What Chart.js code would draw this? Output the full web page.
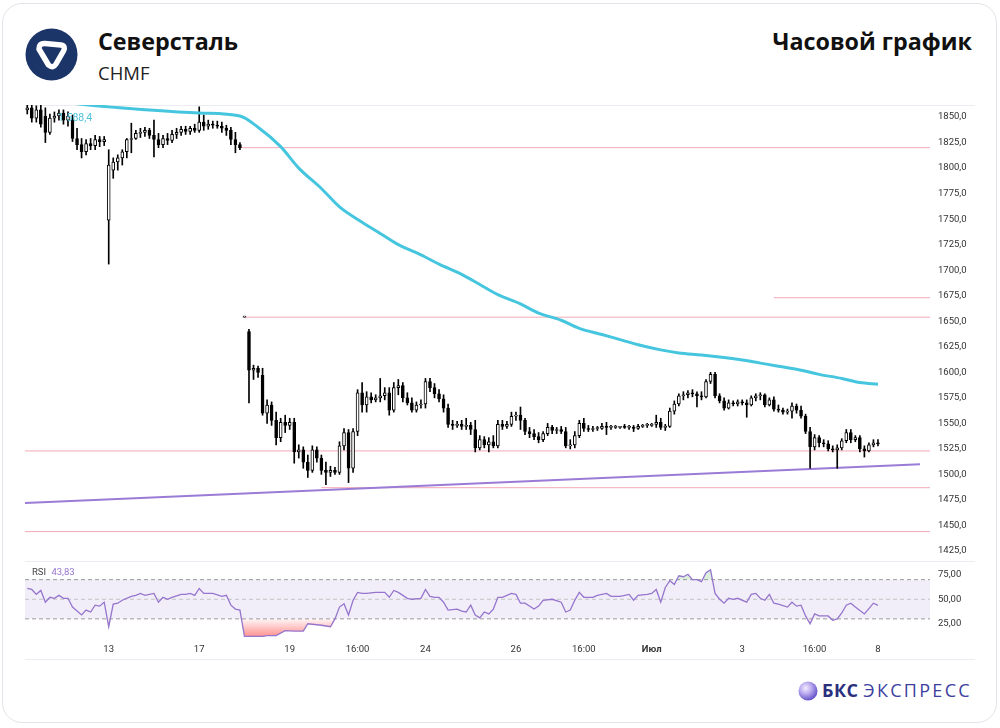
<!DOCTYPE html>
<html lang="ru">
<head>
<meta charset="utf-8">
<script src="https://cdn.jsdelivr.net/npm/chart.js@4.4.1/dist/chart.umd.min.js"></script>
<style>
html, body { margin: 0; padding: 0; background: #fff; }
body { width: 1000px; height: 728px; position: relative; overflow: hidden; font-family: 'Open Sans', sans-serif; }
.card { position: absolute; left: 2px; top: 3px; width: 995px; height: 720px; border: 1px solid #e3e4ea; border-radius: 20px; box-sizing: border-box; }
.abs { position: absolute; white-space: nowrap; }
.title { font-size: 23.3px; font-weight: 700; color: #111; line-height: 23px; }
.ticker { left: 98px; top: 64px; font-size: 18.5px; color: #222; line-height: 18.5px; }
.sep { position: absolute; left: 25px; width: 950px; height: 1px; background: #e9ecf1; }
canvas { position: absolute; left: 0; }
.brand { left: 822px; top: 680px; font-size: 18px; line-height: 20px; }
</style>
</head>
<body>
<div class="card"></div>

<svg class="abs" style="left:25px;top:28px" width="53" height="53" viewBox="0 0 53 53">
  <circle cx="26.5" cy="26.5" r="26" fill="#1b3569"/>
  <path d="M14 21 Q14 15 20 15.5 L36 17 Q41 18 38.5 23 L31 36 Q28 41 23.5 37 Z" fill="none" stroke="#fff" stroke-width="5.5" stroke-linejoin="round"/>
</svg>
<div class="abs title" style="left:98px;top:30px">Северсталь</div>
<div class="abs ticker">CHMF</div>
<div class="abs title" style="right:28px;top:30px">Часовой график</div>

<div class="sep" style="top:105px"></div>
<div class="sep" style="top:561px"></div>
<div class="sep" style="top:659px"></div>

<canvas id="main" width="1000" height="456" style="top:105px"></canvas>
<canvas id="rsi" width="1000" height="98" style="top:561px"></canvas>

<div class="abs" style="left:58px;top:111px;font-family:Roboto;font-size:10.5px;color:#4fc3dc">1 588,4</div>
<div class="abs" style="left:32px;top:566px;font-family:Roboto;font-size:9.5px;color:#444">RSI <span style="color:#9575cd;margin-left:3px">43,83</span></div>

<svg class="abs" style="left:798px;top:681px" width="20" height="20" viewBox="0 0 20 20">
  <defs>
    <radialGradient id="ball" cx="0.38" cy="0.35" r="0.7">
      <stop offset="0" stop-color="#f2efff"/>
      <stop offset="0.45" stop-color="#b9a8ee"/>
      <stop offset="1" stop-color="#5a48c4"/>
    </radialGradient>
  </defs>
  <circle cx="10" cy="10" r="9.5" fill="url(#ball)"/>
</svg>
<div class="abs brand"><b style="color:#2b2f7e;letter-spacing:0.5px">БКС</b> <span style="color:#3d409e;letter-spacing:2.3px">ЭКСПРЕСС</span></div>

<script>
// hourly candles, index = bar number from the left
const opens = [1857,1859,1849,1857,1851,1835,1849,1851,1854,1847,1849,1829,1823,1816,1824,1822,1828,1826,1749,1798,
  1806,1810,1816,1828,1829,1834,1835,1837,1832,1828,1823,1829,1827,1833,1835,1838,1836,1839,1837,1845,
  1841,1843,1842,1841,1839,1837,1828,1823,1654,1640,1602,1604,1597,1560,1568,1553,1536,1551,1548,1551,
  1522,1524,1512,1504,1524,1516,1504,1502,1504,1502,1528,1541,1506,1542,1580,1568,1576,1573,1575,1577,
  1580,1563,1585,1587,1575,1570,1563,1568,1569,1591,1585,1579,1574,1565,1549,1548,1549,1547,1548,1544,
  1526,1534,1529,1532,1528,1549,1547,1549,1557,1558,1553,1542,1540,1537,1534,1540,1546,1543,1544,1542,
  1528,1529,1538,1550,1545,1544,1545,1545,1547,1546,1546,1546,1547,1546,1546,1545,1547,1548,1548,1549,
  1551,1546,1547,1562,1569,1577,1578,1580,1579,1577,1576,1591,1598,1577,1572,1565,1570,1569,1571,1570,
  1568,1575,1577,1578,1568,1573,1564,1563,1561,1562,1567,1563,1557,1542,1527,1536,1531,1530,1525,1524,
  1526,1533,1541,1534,1536,1525,1523,1529,1531];
const highs = [1862,1862,1861,1862,1859,1853,1855,1857,1857,1855,1852,1839,1829,1828,1829,1832,1831,1831,1818,1810,
  1813,1818,1829,1844,1837,1839,1840,1839,1847,1834,1832,1834,1837,1839,1841,1841,1841,1843,1860,1852,
  1847,1846,1846,1845,1842,1840,1835,1825,1654,1642,1607,1606,1604,1573,1571,1561,1555,1558,1555,1555,
  1529,1527,1519,1528,1527,1519,1512,1508,1507,1532,1545,1544,1545,1583,1590,1581,1580,1578,1594,1585,
  1585,1590,1593,1590,1580,1575,1571,1573,1594,1594,1589,1583,1578,1569,1553,1552,1553,1555,1551,1553,
  1538,1537,1536,1538,1553,1553,1552,1561,1561,1566,1555,1546,1544,1541,1542,1550,1548,1546,1547,1546,
  1534,1542,1553,1555,1548,1547,1547,1550,1551,1548,1548,1547,1549,1548,1548,1549,1549,1550,1550,1558,
  1555,1549,1565,1572,1579,1581,1582,1583,1581,1581,1593,1600,1600,1579,1575,1573,1572,1573,1573,1573,
  1577,1579,1580,1579,1575,1576,1568,1565,1564,1570,1569,1567,1559,1546,1539,1538,1534,1533,1528,1529,
  1535,1544,1544,1538,1538,1528,1531,1534,1534];
const lows = [1853,1845,1845,1840,1825,1833,1845,1847,1843,1841,1826,1818,1810,1813,1818,1818,1821,1822,1706,1790,
  1798,1803,1810,1815,1828,1830,1831,1829,1811,1820,1820,1823,1825,1829,1832,1833,1833,1835,1835,1837,
  1838,1839,1839,1835,1832,1823,1815,1818,1654,1570,1593,1595,1558,1550,1548,1529,1532,1541,1544,1511,
  1516,1506,1497,1502,1512,1500,1490,1498,1500,1500,1524,1492,1502,1538,1561,1561,1570,1571,1571,1573,
  1558,1561,1578,1571,1568,1561,1561,1565,1565,1581,1575,1571,1561,1546,1544,1546,1544,1544,1539,1522,
  1524,1526,1522,1526,1526,1544,1545,1547,1553,1544,1539,1536,1534,1531,1532,1538,1540,1540,1540,1526,
  1525,1526,1536,1542,1542,1542,1543,1544,1539,1544,1545,1545,1545,1544,1542,1544,1546,1546,1547,1546,
  1544,1543,1546,1559,1567,1573,1575,1576,1566,1573,1575,1589,1575,1570,1563,1564,1567,1567,1568,1556,
  1567,1572,1573,1566,1567,1562,1561,1559,1559,1555,1560,1555,1540,1506,1524,1527,1527,1523,1522,1506,
  1524,1531,1531,1532,1522,1517,1522,1527,1528];
const closes = [1859,1849,1857,1843,1835,1849,1851,1854,1847,1851,1829,1823,1816,1824,1822,1828,1826,1828,1803,1806,
  1810,1816,1828,1829,1834,1835,1837,1832,1828,1823,1829,1827,1833,1835,1838,1836,1839,1837,1845,1841,
  1843,1842,1841,1839,1837,1828,1823,1820,1654,1602,1604,1600,1560,1568,1553,1536,1551,1548,1551,1522,
  1524,1512,1504,1524,1516,1504,1502,1504,1502,1528,1541,1506,1542,1580,1568,1576,1573,1575,1577,1580,
  1563,1585,1587,1575,1570,1563,1568,1569,1591,1585,1579,1574,1565,1549,1548,1549,1547,1548,1544,1526,
  1534,1529,1532,1528,1549,1547,1549,1557,1558,1553,1542,1540,1537,1534,1540,1546,1543,1544,1542,1528,
  1529,1538,1550,1545,1544,1545,1545,1547,1546,1546,1546,1547,1546,1546,1545,1547,1548,1548,1549,1551,
  1546,1547,1562,1569,1577,1578,1580,1579,1577,1576,1591,1598,1577,1572,1565,1570,1569,1571,1570,1568,
  1575,1577,1578,1568,1573,1564,1563,1561,1562,1567,1563,1557,1542,1527,1536,1531,1530,1525,1524,1526,
  1533,1541,1534,1536,1525,1523,1529,1531,1530];

// moving average (cyan), sampled at bar numbers
const maIndex = [0, 13, 27, 38, 47, 51, 56, 60, 65, 69, 74, 78, 82, 87, 91, 96, 100, 104, 109, 113,
  118, 122, 127, 131, 135, 140, 144, 149, 153, 158, 162, 166, 171, 175, 180, 184, 188];
const maValues = [1870, 1862, 1857, 1854, 1851, 1840, 1821, 1800, 1780, 1762, 1747, 1736, 1725, 1715, 1706, 1696, 1686, 1676, 1667, 1658,
  1651, 1643, 1637, 1632, 1627, 1622, 1619, 1617, 1615, 1612, 1609, 1606, 1602, 1598, 1594, 1590, 1588.4];

// support / resistance levels and their first bar
const levelValues = [1820, 1673, 1654, 1523, 1487, 1444];
const levelStarts = [47, 165, 48, -0.5, 65, -0.5];

// rising trend line
const trendIndex = [-0.5, 197.3];
const trendValues = [1472, 1510];

// RSI
const rsiIndex = [0,1,2,3,4,5,6,7,8,9,10,12,13,14,15,16,17,18,19,20,21,23,24,25,26,28,29,30,31,32,34,35,36,37,38,39,41,43,44,45,46,47,48,50,52,53,55,57,59,61,62,65,67,68,69,70,71,72,73,74,75,77,79,80,81,82,84,85,87,88,89,90,91,92,93,95,96,97,98,99,100,101,102,103,104,105,107,108,109,110,112,113,114,116,118,119,120,121,122,123,125,126,128,129,131,133,134,135,137,138,139,140,141,142,143,144,145,146,147,148,149,150,151,152,153,154,155,156,157,159,160,161,162,163,164,165,166,168,169,170,171,172,173,174,175,177,178,179,180,181,182,183,185,186,187,188];
const rsiValues = [61,60,55,59,47,52,51,54,51,51,42,34,39,37,44,43,47,22,45,46,49,53,54,56,54,56,47,52,50,52,55,55,56,54,61,56,56,53,54,44,40,39,12,12,12,13,13,18,17.5,17.5,25,23.5,22,30,42,45.5,34,49,57,56,56,57,57,52,59,57,51,50,51,60,53,52,52,47,39,40,38,37,44,34,31,37,35,40,52,52,56,55,46,46,40,43,49,50,47,37,39,49,57,52,52,54,56,53,53,55,49,54,55,56,60,47,62,69,65,74,73,75.5,70,70,68,77,80,56,50,46,51,50,51,47,55,56,51,49,55,46,45,42,47,43,44,33,25,35,33,33,28.5,30,36,44,46,42,35,40.5,46,43.83];

const priceTicks = [1425,1450,1475,1500,1525,1550,1575,1600,1625,1650,1675,1700,1725,1750,1775,1800,1825,1850];
const rsiTicks = [25, 50, 75];
const dayTicks = [18, 38, 58, 73, 88, 108, 123, 138, 158, 174, 188];
const dayLabels = ['13', '17', '19', '16:00', '24', '26', '16:00', 'Июл', '3', '16:00', '8'];

const axisFont = { family: 'Roboto', size: 9.5 };
const lastSlot = 199.5;

// right axis: fixed width, no extra room above/below the plot for the end labels
const fitRight = s => { s.width = 70; s.paddingTop = 0; s.paddingBottom = 0; };

const candleWicks = closes.map((c, i) => ({ x: i, y: [lows[i], highs[i]] }));
const candleBodies = closes.map((c, i) => ({ x: i, y: [Math.min(opens[i], c), Math.max(opens[i], c)] }));
const bodyColors = closes.map((c, i) => c >= opens[i] ? '#ffffff' : '#000000');

const levelSets = levelValues.map((v, k) => ({
    type: 'line',
    data: [{ x: levelStarts[k], y: v }, { x: lastSlot, y: v }],
    borderColor: '#f4a9b6', borderWidth: 1, pointRadius: 0, order: 5
}));

const mainChart = new Chart(document.getElementById('main'), {
    type: 'bar',
    data: {
        datasets: [
            ...levelSets,
            {
                type: 'line',
                data: trendIndex.map((x, k) => ({ x, y: trendValues[k] })),
                borderColor: '#9a7bd6', borderWidth: 2, pointRadius: 0, order: 4
            },
            {
                data: candleWicks, backgroundColor: '#000', barThickness: 1,
                grouped: false, minBarLength: 1, order: 3
            },
            {
                data: candleBodies, backgroundColor: bodyColors, borderColor: '#000', borderWidth: 1,
                borderSkipped: false, barThickness: 3, grouped: false, minBarLength: 1, order: 2
            },
            {
                type: 'line',
                data: maIndex.map((x, k) => ({ x, y: maValues[k] })),
                borderColor: '#45c6de', borderWidth: 3, pointRadius: 0,
                cubicInterpolationMode: 'monotone', order: 1
            }
        ]
    },
    options: {
        responsive: false,
        animation: false,
        layout: { autoPadding: false, padding: { left: 25, right: 0, top: 0, bottom: 0 } },
        plugins: { legend: { display: false }, tooltip: { enabled: false } },
        scales: {
            x: { type: 'linear', min: -0.5, max: lastSlot, offset: false, display: false },
            y: {
                position: 'right', min: 1415.2, max: 1861.8,
                grid: { display: false, drawTicks: false }, border: { display: false },
                afterBuildTicks: s => { s.ticks = priceTicks.map(v => ({ value: v })); },
                afterFit: fitRight,
                ticks: { padding: 8, color: '#333', font: axisFont, callback: v => v.toFixed(1).replace('.', ',') }
            }
        }
    }
});

const rsiPoints = rsiIndex.map((x, k) => ({ x, y: rsiValues[k] }));
const flat = v => [{ x: -0.5, y: v }, { x: lastSlot, y: v }];

const rsiChart = new Chart(document.getElementById('rsi'), {
    type: 'line',
    data: {
        datasets: [
            { data: flat(70), borderColor: 'transparent', borderWidth: 0, pointRadius: 0,
              fill: { target: { value: 30 } }, backgroundColor: 'rgba(126,87,194,0.1)', order: 6 },
            { data: flat(70), borderColor: '#9a9a9a', borderWidth: 1, borderDash: [4, 3], pointRadius: 0, order: 5 },
            { data: flat(50), borderColor: '#c2c2c2', borderWidth: 1, borderDash: [4, 3], pointRadius: 0, order: 5 },
            { data: flat(30), borderColor: '#9a9a9a', borderWidth: 1, borderDash: [4, 3], pointRadius: 0, order: 5 },
            { data: rsiPoints, borderColor: 'transparent', borderWidth: 0, pointRadius: 0,
              fill: { target: { value: 70 }, above: 'rgba(76,175,80,0.2)', below: 'transparent' }, order: 3 },
            { data: rsiPoints, borderColor: '#9575cd', borderWidth: 1.3, pointRadius: 0,
              fill: { target: { value: 30 }, above: 'transparent', below: 'rgba(255,82,82,0.4)' }, order: 1 }
        ]
    },
    options: {
        responsive: false,
        animation: false,
        layout: { autoPadding: false, padding: { left: 25, right: 0, top: 2, bottom: 0 } },
        plugins: { legend: { display: false }, tooltip: { enabled: false } },
        scales: {
            x: {
                type: 'linear', min: -0.5, max: lastSlot, offset: false,
                grid: { display: false, drawTicks: false }, border: { display: false },
                afterBuildTicks: s => { s.ticks = dayTicks.map(v => ({ value: v })); },
                afterFit: s => { s.height = 22; s.paddingLeft = 0; s.paddingRight = 0; },
                ticks: {
                    autoSkip: false, maxRotation: 0, padding: 7, color: '#333',
                    font: c => ({ family: 'Roboto', size: 9.5, weight: dayLabels[c.index] === 'Июл' ? 'bold' : 'normal' }),
                    callback: (v, i) => dayLabels[i]
                }
            },
            y: {
                position: 'right', min: 11.5, max: 87,
                grid: { display: false, drawTicks: false }, border: { display: false },
                afterBuildTicks: s => { s.ticks = rsiTicks.map(v => ({ value: v })); },
                afterFit: fitRight,
                ticks: { padding: 8, color: '#333', font: axisFont, callback: v => v.toFixed(2).replace('.', ',') }
            }
        }
    }
});

// oversold fill fades in towards the bottom
const y30 = rsiChart.scales.y.getPixelForValue(30);
const grad = rsiChart.ctx.createLinearGradient(0, y30, 0, rsiChart.chartArea.bottom);
grad.addColorStop(0, 'rgba(255,82,82,0.05)');
grad.addColorStop(1, 'rgba(255,82,82,0.65)');
rsiChart.data.datasets[5].fill.below = grad;
rsiChart.update('none');
</script>
</body>
</html>
